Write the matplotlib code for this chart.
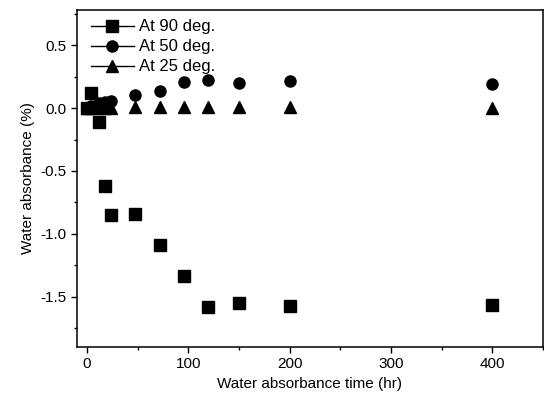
import matplotlib
matplotlib.use("Agg")
import matplotlib.pyplot as plt
from matplotlib.ticker import MultipleLocator

plt.rcParams["font.family"] = ["Liberation Sans", "DejaVu Sans"]

# water absorbance time (hr)
time_hr = [0, 4, 12, 18, 24, 48, 72, 96, 120, 150, 200, 400]

# water absorbance (%) at each temperature
absorb_90 = [0.0, 0.12, -0.11, -0.62, -0.85, -0.845, -1.09, -1.335, -1.58, -1.55, -1.575, -1.567]
absorb_50 = [0.0, 0.02, 0.04, 0.05, 0.06, 0.107, 0.14, 0.208, 0.221, 0.203, 0.215, 0.195]
absorb_25 = [0.0, 0.005, 0.005, 0.005, 0.005, 0.008, 0.01, 0.01, 0.01, 0.01, 0.01, 0.0]

series = [
    (absorb_90, "s", "At 90 deg."),
    (absorb_50, "o", "At 50 deg."),
    (absorb_25, "^", "At 25 deg."),
]

fig = plt.figure(figsize=(5.44, 4.07), dpi=100)
ax = fig.add_axes([0.141, 0.148, 0.857, 0.827])

for values, marker, label in series:
    ax.plot(time_hr, values, marker=marker, color="black", linestyle="none",
            markersize=8, label=label)

# legend handles show a line through the marker
handles = [plt.Line2D([], [], color="black", marker=m, markersize=8, linewidth=1)
           for _, m, _ in series]
labels = [lab for _, _, lab in series]
ax.legend(handles, labels, loc="upper left", frameon=False, fontsize=12,
          handlelength=2.6, handletextpad=0.3, labelspacing=0.3,
          borderaxespad=0.15, bbox_to_anchor=(0.01, 1.0))

ax.set_xlim(-10, 450)
ax.set_ylim(-1.9, 0.78)
ax.xaxis.set_major_locator(MultipleLocator(100))
ax.xaxis.set_minor_locator(MultipleLocator(50))
ax.yaxis.set_major_locator(MultipleLocator(0.5))
ax.yaxis.set_minor_locator(MultipleLocator(0.25))
ax.yaxis.set_major_formatter(matplotlib.ticker.FormatStrFormatter("%.1f"))

ax.tick_params(which="major", direction="out", length=4, width=1, labelsize=11)
ax.tick_params(which="minor", direction="out", length=2.5, width=1)
for sp in ax.spines.values():
    sp.set_linewidth(1.1)

ax.set_xlabel("Water absorbance time (hr)", fontsize=11)
ax.set_ylabel("Water absorbance (%)", fontsize=11)

fig.savefig("out.png", dpi=100)
